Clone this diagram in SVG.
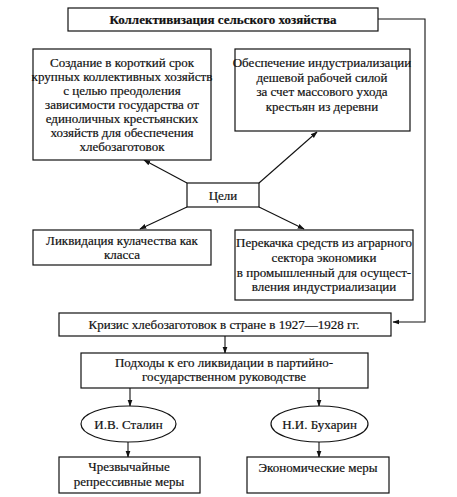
<svg xmlns="http://www.w3.org/2000/svg" width="457" height="497" viewBox="0 0 457 497">
<style>
.b{fill:#fff;stroke:#111;stroke-width:1.2}
.t{font-family:"Liberation Serif","Times New Roman",serif;font-size:13px;fill:#111;stroke:#111;stroke-width:0.2;text-anchor:middle}
.c{fill:none;stroke:#111;stroke-width:1.1}
</style>
<defs>
<marker id="a" viewBox="0 0 10 10" refX="9" refY="5" markerWidth="7" markerHeight="7" orient="auto" markerUnits="userSpaceOnUse">
<path d="M0,1.5 L10,5 L0,8.5 z" fill="#111"/>
</marker>
</defs>
<rect width="457" height="497" fill="#fff"/>
<g id="connectors">
<path class="c" d="M378,19 H425 V322 H393" marker-end="url(#a)"/>
<path class="c" d="M187,183 L144,160" marker-end="url(#a)"/>
<path class="c" d="M259,183 L317,132" marker-end="url(#a)"/>
<path class="c" d="M187,207 L140,229" marker-end="url(#a)"/>
<path class="c" d="M259,207 L304,229" marker-end="url(#a)"/>
<path class="c" d="M225,336 V353" marker-end="url(#a)"/>
<path class="c" d="M130,388 V406" marker-end="url(#a)"/>
<path class="c" d="M319,388 V406" marker-end="url(#a)"/>
<path class="c" d="M128,442 V457" marker-end="url(#a)"/>
<path class="c" d="M319,442 V457" marker-end="url(#a)"/>
</g>
<g id="n_top">
<rect class="b" x="68" y="8" width="310" height="23"/>
<text class="t" x="223" y="24" font-weight="bold">Коллективизация сельского хозяйства</text>
</g>
<g id="n_goal1">
<rect class="b" x="33" y="49" width="178" height="111"/>
<text class="t" x="122" y="67">Создание в короткий срок</text>
<text class="t" x="122" y="81">крупных коллективных хозяйств</text>
<text class="t" x="122" y="95">с целью преодоления</text>
<text class="t" x="122" y="109">зависимости государства от</text>
<text class="t" x="122" y="123">единоличных крестьянских</text>
<text class="t" x="122" y="137">хозяйств для обеспечения</text>
<text class="t" x="122" y="151">хлебозаготовок</text>
</g>
<g id="n_goal2">
<rect class="b" x="235" y="49" width="175" height="82"/>
<text class="t" x="322" y="67">Обеспечение индустриализации</text>
<text class="t" x="322" y="81.5">дешевой рабочей силой</text>
<text class="t" x="322" y="96">за счет массового ухода</text>
<text class="t" x="322" y="110.5">крестьян из деревни</text>
</g>
<g id="n_goals">
<rect class="b" x="187" y="183" width="72" height="24"/>
<text class="t" x="223" y="200">Цели</text>
</g>
<g id="n_goal3">
<rect class="b" x="33" y="230" width="178" height="35"/>
<text class="t" x="122" y="245">Ликвидация кулачества как</text>
<text class="t" x="122" y="259">класса</text>
</g>
<g id="n_goal4">
<rect class="b" x="235" y="230" width="178" height="70"/>
<text class="t" x="324" y="247">Перекачка средств из аграрного</text>
<text class="t" x="324" y="262">сектора экономики</text>
<text class="t" x="324" y="277">в промышленный для осущест-</text>
<text class="t" x="324" y="291">вления индустриализации</text>
</g>
<g id="n_crisis">
<rect class="b" x="59" y="313" width="332" height="23"/>
<text class="t" x="224" y="329">Кризис хлебозаготовок в стране в 1927—1928 гг.</text>
</g>
<g id="n_approach">
<rect class="b" x="81" y="353" width="287" height="35"/>
<text class="t" x="224" y="367">Подходы к его ликвидации в партийно-</text>
<text class="t" x="224" y="381">государственном руководстве</text>
</g>
<g id="n_stalin">
<ellipse class="b" cx="128.5" cy="424" rx="47.5" ry="18"/>
<text class="t" x="128.5" y="429">И.В. Сталин</text>
</g>
<g id="n_bukharin">
<ellipse class="b" cx="319.5" cy="424" rx="48.5" ry="18"/>
<text class="t" x="319.5" y="429">Н.И. Бухарин</text>
</g>
<g id="n_repr">
<rect class="b" x="59" y="457" width="141" height="36"/>
<text class="t" x="129" y="471">Чрезвычайные</text>
<text class="t" x="129" y="486">репрессивные меры</text>
</g>
<g id="n_econ">
<rect class="b" x="247" y="457" width="142" height="36"/>
<text class="t" x="318" y="472">Экономические меры</text>
</g>
</svg>
